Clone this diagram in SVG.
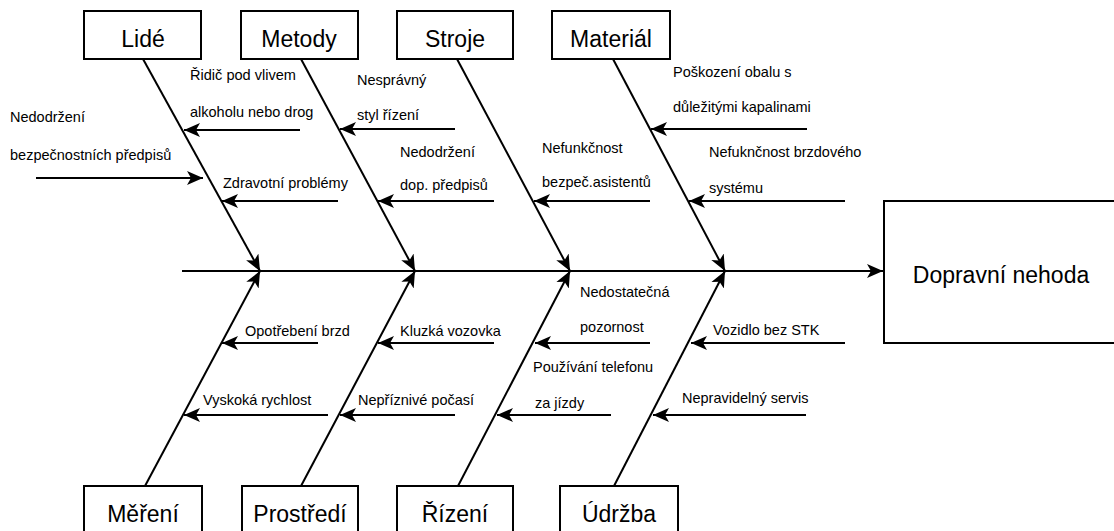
<svg xmlns="http://www.w3.org/2000/svg" width="1114" height="531" viewBox="0 0 1114 531">
<style>
.box{fill:#fff;stroke:#000;stroke-width:2}
.cat{font-family:"Liberation Sans",Arial,sans-serif;font-size:23px;fill:#000;text-anchor:middle}
.eff{font-family:"Liberation Sans",Arial,sans-serif;font-size:23px;fill:#000;text-anchor:middle}
.lbl{font-family:"Liberation Sans",Arial,sans-serif;font-size:14.5px;fill:#000}
.ln{stroke:#000;stroke-width:2;fill:none;marker-end:url(#ah)}
</style>
<defs>
<marker id="ah" markerUnits="userSpaceOnUse" markerWidth="17" markerHeight="16" viewBox="0 0 17 16" refX="16" refY="8" orient="auto">
<path d="M16,8 L0,1 L4,8 L0,15 Z" fill="#000"/>
</marker>
</defs>
<rect width="1114" height="531" fill="#fff"/>
<g id="connectors">
<line class="ln" x1="182" y1="271" x2="883" y2="271"/>
<line class="ln" x1="143" y1="59" x2="260" y2="271"/>
<line class="ln" x1="301" y1="59" x2="415" y2="271"/>
<line class="ln" x1="457" y1="59" x2="570" y2="271"/>
<line class="ln" x1="613" y1="59" x2="725" y2="271"/>
<line class="ln" x1="145" y1="486" x2="260" y2="271"/>
<line class="ln" x1="301" y1="486" x2="415" y2="271"/>
<line class="ln" x1="458" y1="486" x2="570" y2="271"/>
<line class="ln" x1="614" y1="486" x2="725" y2="271"/>
<line class="ln" x1="300" y1="130" x2="184" y2="130"/>
<line class="ln" x1="36" y1="178" x2="203" y2="178"/>
<line class="ln" x1="338" y1="201" x2="222" y2="201"/>
<line class="ln" x1="455" y1="129" x2="340" y2="129"/>
<line class="ln" x1="494" y1="201" x2="378" y2="201"/>
<line class="ln" x1="650" y1="201" x2="534" y2="201"/>
<line class="ln" x1="807" y1="129" x2="651" y2="129"/>
<line class="ln" x1="845" y1="201" x2="689" y2="201"/>
<line class="ln" x1="318" y1="343" x2="222" y2="343"/>
<line class="ln" x1="328" y1="415" x2="184" y2="415"/>
<line class="ln" x1="494" y1="343" x2="378" y2="343"/>
<line class="ln" x1="455" y1="415" x2="340" y2="415"/>
<line class="ln" x1="650" y1="343" x2="535" y2="343"/>
<line class="ln" x1="611" y1="415" x2="497" y2="415"/>
<line class="ln" x1="845" y1="343" x2="691" y2="343"/>
<line class="ln" x1="806" y1="415" x2="653" y2="415"/>
</g>
<g id="lide"><rect class="box" x="84" y="11" width="117" height="48"/><text class="cat" x="143" y="47">Lidé</text></g>
<g id="metody"><rect class="box" x="241" y="11" width="117" height="48"/><text class="cat" x="299" y="47">Metody</text></g>
<g id="stroje"><rect class="box" x="397" y="11" width="116" height="48"/><text class="cat" x="455" y="47">Stroje</text></g>
<g id="material"><rect class="box" x="552" y="11" width="118" height="48"/><text class="cat" x="611" y="47">Materiál</text></g>
<g id="mereni"><rect class="box" x="84" y="486" width="118" height="50"/><text class="cat" x="143" y="522">Měření</text></g>
<g id="prostredi"><rect class="box" x="242" y="486" width="116" height="50"/><text class="cat" x="300" y="522">Prostředí</text></g>
<g id="rizeni"><rect class="box" x="397" y="486" width="116" height="50"/><text class="cat" x="455" y="522">Řízení</text></g>
<g id="udrzba"><rect class="box" x="560" y="486" width="118" height="50"/><text class="cat" x="619" y="522">Údržba</text></g>
<g id="effect"><rect class="box" x="884" y="201" width="240" height="142"/><text class="eff" x="1001" y="283">Dopravní nehoda</text></g>
<g id="labels">
<text class="lbl" x="190" y="80" textLength="106" lengthAdjust="spacingAndGlyphs">Řidič pod vlivem</text>
<text class="lbl" x="190" y="117">alkoholu nebo drog</text>
<text class="lbl" x="10" y="122">Nedodržení</text>
<text class="lbl" x="10" y="160">bezpečnostních předpisů</text>
<text class="lbl" x="223" y="188">Zdravotní problémy</text>
<text class="lbl" x="357" y="85">Nesprávný</text>
<text class="lbl" x="357" y="120">styl řízení</text>
<text class="lbl" x="400" y="157">Nedodržení</text>
<text class="lbl" x="400" y="190">dop. předpisů</text>
<text class="lbl" x="542" y="153">Nefunkčnost</text>
<text class="lbl" x="542" y="187">bezpeč.asistentů</text>
<text class="lbl" x="673" y="77">Poškození obalu s</text>
<text class="lbl" x="673" y="112">důležitými kapalinami</text>
<text class="lbl" x="709" y="157">Nefuknčnost brzdového</text>
<text class="lbl" x="709" y="193">systému</text>
<text class="lbl" x="245" y="336">Opotřebení brzd</text>
<text class="lbl" x="203" y="405">Vyskoká rychlost</text>
<text class="lbl" x="400" y="336">Kluzká vozovka</text>
<text class="lbl" x="358" y="405">Nepříznivé počasí</text>
<text class="lbl" x="580" y="297">Nedostatečná</text>
<text class="lbl" x="580" y="332">pozornost</text>
<text class="lbl" x="533" y="372">Používání telefonu</text>
<text class="lbl" x="535" y="408">za jízdy</text>
<text class="lbl" x="713" y="335">Vozidlo bez STK</text>
<text class="lbl" x="682" y="403">Nepravidelný servis</text>
</g>
</svg>
